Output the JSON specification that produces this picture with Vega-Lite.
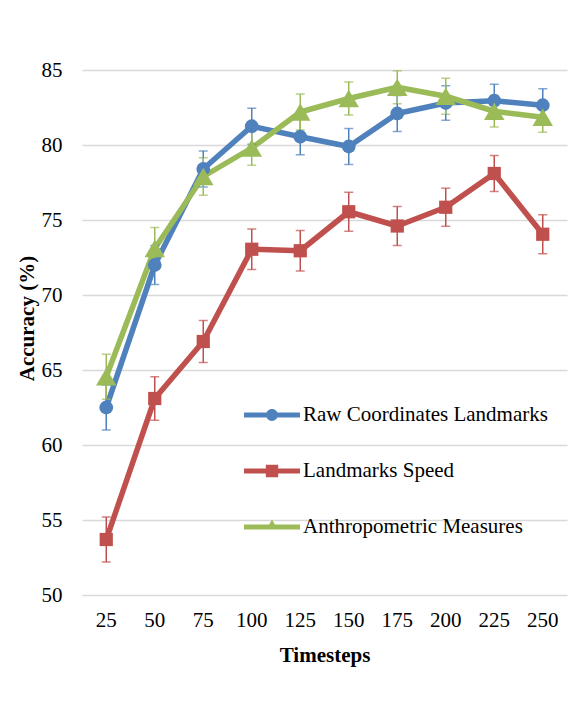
{
  "$schema": "https://vega.github.io/schema/vega-lite/v6.json",
  "autosize": "none",
  "width": 485,
  "height": 525,
  "padding": {"left": 82, "top": 70, "right": 8, "bottom": 129},
  "background": "white",
  "config": {
    "font": "Liberation Serif",
    "view": {"stroke": null},
    "axis": {
      "labelFont": "Liberation Serif",
      "labelFontSize": 21,
      "labelColor": "black",
      "titleFont": "Liberation Serif",
      "titleFontSize": 21,
      "titleFontWeight": "bold",
      "titleColor": "black",
      "domain": false,
      "ticks": false,
      "gridColor": "#d9d9d9",
      "gridWidth": 1.5
    }
  },
  "data": {
    "values": [
      {"t": 25, "series": "Raw Coordinates Landmarks", "acc": 62.5, "err": 1.5},
      {"t": 50, "series": "Raw Coordinates Landmarks", "acc": 72.0, "err": 1.3},
      {"t": 75, "series": "Raw Coordinates Landmarks", "acc": 78.4, "err": 1.2},
      {"t": 100, "series": "Raw Coordinates Landmarks", "acc": 81.25, "err": 1.2},
      {"t": 125, "series": "Raw Coordinates Landmarks", "acc": 80.55, "err": 1.2},
      {"t": 150, "series": "Raw Coordinates Landmarks", "acc": 79.9, "err": 1.2},
      {"t": 175, "series": "Raw Coordinates Landmarks", "acc": 82.1, "err": 1.2},
      {"t": 200, "series": "Raw Coordinates Landmarks", "acc": 82.8, "err": 1.15},
      {"t": 225, "series": "Raw Coordinates Landmarks", "acc": 82.95, "err": 1.1},
      {"t": 250, "series": "Raw Coordinates Landmarks", "acc": 82.65, "err": 1.1},
      {"t": 25, "series": "Landmarks Speed", "acc": 53.7, "err": 1.5},
      {"t": 50, "series": "Landmarks Speed", "acc": 63.1, "err": 1.45},
      {"t": 75, "series": "Landmarks Speed", "acc": 66.9, "err": 1.4},
      {"t": 100, "series": "Landmarks Speed", "acc": 73.05, "err": 1.35},
      {"t": 125, "series": "Landmarks Speed", "acc": 72.95, "err": 1.35},
      {"t": 150, "series": "Landmarks Speed", "acc": 75.55, "err": 1.3},
      {"t": 175, "series": "Landmarks Speed", "acc": 74.6, "err": 1.3},
      {"t": 200, "series": "Landmarks Speed", "acc": 75.85, "err": 1.27},
      {"t": 225, "series": "Landmarks Speed", "acc": 78.1, "err": 1.2},
      {"t": 250, "series": "Landmarks Speed", "acc": 74.05, "err": 1.3},
      {"t": 25, "series": "Anthropometric Measures", "acc": 64.55, "err": 1.5},
      {"t": 50, "series": "Anthropometric Measures", "acc": 73.1, "err": 1.4},
      {"t": 75, "series": "Anthropometric Measures", "acc": 77.9, "err": 1.25},
      {"t": 100, "series": "Anthropometric Measures", "acc": 79.8, "err": 1.15},
      {"t": 125, "series": "Anthropometric Measures", "acc": 82.2, "err": 1.2},
      {"t": 150, "series": "Anthropometric Measures", "acc": 83.1, "err": 1.1},
      {"t": 175, "series": "Anthropometric Measures", "acc": 83.85, "err": 1.1},
      {"t": 200, "series": "Anthropometric Measures", "acc": 83.25, "err": 1.2},
      {"t": 225, "series": "Anthropometric Measures", "acc": 82.25, "err": 1.05},
      {"t": 250, "series": "Anthropometric Measures", "acc": 81.85, "err": 1.0}
    ]
  },
  "encoding": {
    "x": {
      "field": "t",
      "type": "ordinal",
      "scale": {"domain": [25, 50, 75, 100, 125, 150, 175, 200, 225, 250]},
      "axis": {
        "title": "Timesteps", "labelAngle": 0, "labelPadding": 14, "titlePadding": 14, "grid": false,
        "encode": {"labels": {"update": {"font": {"value": "Liberation Serif"}, "fontSize": {"value": 21}, "fill": {"value": "black"}}}}
      }
    },
    "y": {
      "field": "acc",
      "type": "quantitative",
      "scale": {"domain": [50, 85], "nice": false, "zero": false},
      "axis": {
        "title": "Accuracy (%)", "values": [50, 55, 60, 65, 70, 75, 80, 85], "labelPadding": 20, "titlePadding": 4, "titleY": 248, "grid": true,
        "encode": {"labels": {"update": {"font": {"value": "Liberation Serif"}, "fontSize": {"value": 21}, "fill": {"value": "black"}}}}
      }
    },
    "color": {
      "field": "series",
      "type": "nominal",
      "scale": {
        "domain": ["Raw Coordinates Landmarks", "Landmarks Speed", "Anthropometric Measures"],
        "range": ["#4F81BD", "#C0504D", "#9BBB59"]
      },
      "legend": {
        "title": null,
        "orient": "none",
        "legendX": 162,
        "legendY": 317,
        "padding": 0,
        "symbolSize": 3136,
        "labelFont": "Liberation Serif",
        "labelFontSize": 21,
        "labelColor": "black",
        "labelLimit": 400,
        "labelOffset": 3,
        "rowPadding": 18,
        "encode": {
          "labels": {"update": {"font": {"value": "Liberation Serif"}, "fontSize": {"value": 21}, "fill": {"value": "black"}}},
          "symbols": {
            "update": {
              "shape": {"signal": "datum.value === 'Raw Coordinates Landmarks' ? 'M-1,-0.09H1V0.09H-1Z M0.21,0A0.21,0.21 0 1,1 -0.21,0A0.21,0.21 0 1,1 0.21,0Z' : datum.value === 'Landmarks Speed' ? 'M-1,-0.09H1V0.09H-1Z M-0.22,-0.22H0.22V0.22H-0.22Z' : 'M-1,-0.09H1V0.09H-1Z M0,-0.27L0.2,0.09H-0.2Z'"},
              "size": {"value": 3136},
              "fill": {"scale": "color", "field": "value"},
              "stroke": {"value": "transparent"},
              "strokeWidth": {"value": 0},
              "opacity": {"value": 1}
            }
          }
        }
      }
    }
  },
  "layer": [
    {
      "mark": {"type": "line", "strokeWidth": 5.5, "strokeJoin": "round", "strokeCap": "round"}
    },
    {
      "mark": {"type": "errorbar", "ticks": true, "size": 9, "thickness": 1.5},
      "encoding": {
        "yError": {"field": "err"}
      }
    },
    {
      "transform": [{"filter": "datum.series === 'Raw Coordinates Landmarks'"}],
      "mark": {"type": "point", "filled": true, "opacity": 1, "shape": "circle", "size": 190}
    },
    {
      "transform": [{"filter": "datum.series === 'Landmarks Speed'"}],
      "mark": {"type": "point", "filled": true, "opacity": 1, "shape": "square", "size": 175}
    },
    {
      "transform": [{"filter": "datum.series === 'Anthropometric Measures'"}],
      "mark": {"type": "point", "filled": true, "opacity": 1, "shape": "triangle-up", "size": 420}
    }
  ]
}
